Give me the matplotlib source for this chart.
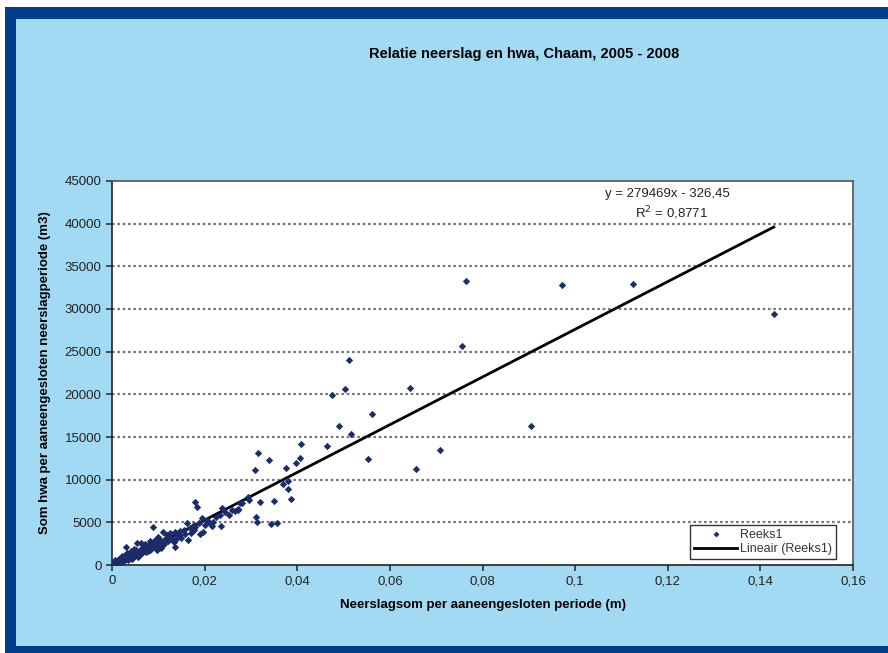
import numpy as np
import matplotlib
matplotlib.use('Agg')
import matplotlib.pyplot as plt
from matplotlib.patches import Rectangle

plt.rcParams['font.family'] = ['Liberation Sans', 'DejaVu Sans']

# Neerslagsom per aaneengesloten periode (m)
neerslag = [0.0003, 0.0005, 0.0008, 0.0010, 0.0012, 0.0015, 0.0018, 0.0020, 0.0022, 0.0025,
            0.0028, 0.0030, 0.0031, 0.0033, 0.0035, 0.0038, 0.0040, 0.0042, 0.0045, 0.0048,
            0.0050, 0.0053, 0.0055, 0.0058, 0.0060, 0.0062, 0.0065, 0.0068, 0.0070, 0.0072,
            0.0075, 0.0078, 0.0080, 0.0082, 0.0085, 0.0089, 0.0090, 0.0092, 0.0095, 0.0099,
            0.0100, 0.0103, 0.0107, 0.0110, 0.0111, 0.0115, 0.0118, 0.0120, 0.0125, 0.0128,
            0.0133, 0.0136, 0.0136, 0.0140, 0.0143, 0.0146, 0.0147, 0.0150, 0.0155, 0.0158,
            0.0162, 0.0165, 0.0168, 0.0170, 0.0176, 0.0176, 0.0179, 0.0180, 0.0184, 0.0188,
            0.0190, 0.0194, 0.0196, 0.0201, 0.0205, 0.0210, 0.0215, 0.0219, 0.0225, 0.0234,
            0.0235, 0.0237, 0.0245, 0.0252, 0.0260, 0.0266, 0.0271, 0.0273, 0.0277, 0.0280,
            0.0293, 0.0295, 0.0309, 0.0311, 0.0313, 0.0316, 0.0319, 0.0338, 0.0343, 0.0349,
            0.0356, 0.0370, 0.0376, 0.0379, 0.0379, 0.0386, 0.0397, 0.0405, 0.0408, 0.0464,
            0.0475, 0.0491, 0.0504, 0.0512, 0.0517, 0.0553, 0.0561, 0.0644, 0.0657, 0.0708,
            0.0755, 0.0765, 0.0904, 0.0971, 0.1124, 0.1429,
            0.0002, 0.0004, 0.0007, 0.0009, 0.0013, 0.0016, 0.0019, 0.0024, 0.0026, 0.0029,
            0.0034, 0.0037, 0.0041, 0.0044, 0.0047, 0.0052, 0.0057, 0.0063, 0.0067, 0.0073,
            0.0077, 0.0083, 0.0087, 0.0094, 0.0098, 0.0105, 0.0113, 0.0122, 0.0131, 0.0139]

# Som hwa per aaneengesloten neerslagperiode (m3)
hwa = [100, 300, 150, 400, 600, 250, 800, 500, 1000, 700,
       1200, 900, 2140, 1400, 600, 1100, 1600, 800, 1300, 1900,
       1000, 2540, 1500, 1200, 1800, 2600, 1400, 2100, 1700, 2500,
       2000, 1600, 2300, 2800, 1900, 4400, 2400, 2900, 2100, 3240,
       2600, 2900, 2340, 2540, 3900, 3000, 3510, 2800, 3700, 3200,
       2720, 3900, 2070, 3400, 3800, 4010, 3510, 3200, 4100, 3600,
       4870, 2920, 4300, 3800, 4680, 4090, 7400, 4400, 6740, 4900,
       3600, 5460, 3900, 4680, 5300, 5060, 4600, 5060, 5600, 5840,
       4600, 6700, 6200, 5840, 6500, 6350, 6430, 6510, 7280, 7210,
       7980, 7600, 11100, 5650, 5060, 13170, 7330, 12270, 4790, 7480,
       4950, 9550, 11340, 9860, 8880, 7790, 12000, 12590, 14220, 13900,
       19950, 16250, 20570, 24080, 15310, 12390, 17650, 20800, 11300, 13520,
       25680, 33310, 16250, 32840, 32960, 29450,
       400, 150, 550, 250, 350, 700, 300, 500, 900, 600,
       1000, 750, 1250, 700, 1000, 1700, 900, 1400, 2300, 1500,
       2200, 1700, 2600, 2200, 1800, 2000, 2500, 3300, 2900, 3100]

# trendline as given in the chart
slope = 279469
intercept = -326.45
r2_label = '0,8771'

xticks = [0, 0.02, 0.04, 0.06, 0.08, 0.1, 0.12, 0.14, 0.16]
xtick_labels = ['0', '0,02', '0,04', '0,06', '0,08', '0,1', '0,12', '0,14', '0,16']
yticks = [0, 5000, 10000, 15000, 20000, 25000, 30000, 35000, 40000, 45000]

fig = plt.figure(figsize=(8.88, 6.53), dpi=100)
fig.patch.set_facecolor('white')
# frame: dark blue border with light blue inside
fig.patches.append(Rectangle((5 / 888, 0), 1, 1 - 7 / 653, transform=fig.transFigure,
                             facecolor='#003E8C', edgecolor='none', zorder=-2))
fig.patches.append(Rectangle((16 / 888, 7 / 653), 1, 1 - 26 / 653, transform=fig.transFigure,
                             facecolor='#A2DAF3', edgecolor='none', zorder=-1))

ax = fig.add_axes([112 / 888, 88 / 653, 741 / 888, 384 / 653])
ax.set_facecolor('white')

for v in yticks[1:-1]:
    ax.axhline(v, color='#7a7a7a', linestyle=(0, (1.2, 1.2)), linewidth=1.6, zorder=1)

ax.scatter(neerslag, hwa, marker='D', s=14, color='#1B2C6B', zorder=3, label='Reeks1',
           linewidths=0)

xl = np.array([0, max(neerslag)])
ax.plot(xl, slope * xl + intercept, color='black', linewidth=2, zorder=2,
        label='Lineair (Reeks1)')

ax.set_xlim(0, 0.16)
ax.set_ylim(0, 45000)
ax.set_xticks(xticks)
ax.set_xticklabels(xtick_labels)
ax.set_yticks(yticks)
ax.set_yticklabels([str(v) for v in yticks])
ax.tick_params(direction='out', length=4, width=1.2, labelsize=9.5, color='#333333',
               labelcolor='#222222')
for s in ax.spines.values():
    s.set_color('#555555')
    s.set_linewidth(1.2)
ax.spines['left'].set_color('#222222')
ax.spines['bottom'].set_color('#222222')

ax.set_xlabel('Neerslagsom per aaneengesloten periode (m)', fontsize=9.5,
              fontweight='bold', labelpad=8)
ax.set_ylabel('Som hwa per aaneengesloten neerslagperiode (m3)', fontsize=9.5,
              fontweight='bold', labelpad=10)

ax.text(0.75, 0.965, 'y = 279469x - 326,45', transform=ax.transAxes, ha='center',
        va='center', fontsize=9.5, color='#222222')
ax.text(0.755, 0.915, 'R$^2$ = ' + r2_label, transform=ax.transAxes, ha='center',
        va='center', fontsize=9.5, color='#222222')

leg = ax.legend(loc='lower right', bbox_to_anchor=(0.985, 0.0), fontsize=9,
                frameon=True, fancybox=False, borderpad=0.3, labelspacing=0.2,
                handlelength=3.5, handletextpad=0.2, markerscale=0.8)
leg.get_frame().set_edgecolor('black')
leg.get_frame().set_linewidth(1)
for t in leg.get_texts():
    t.set_color('#333333')

fig.text(0.59, 0.918, 'Relatie neerslag en hwa, Chaam, 2005 - 2008', ha='center',
         va='center', fontsize=10.5, fontweight='bold')

fig.savefig('out.png', dpi=100)
